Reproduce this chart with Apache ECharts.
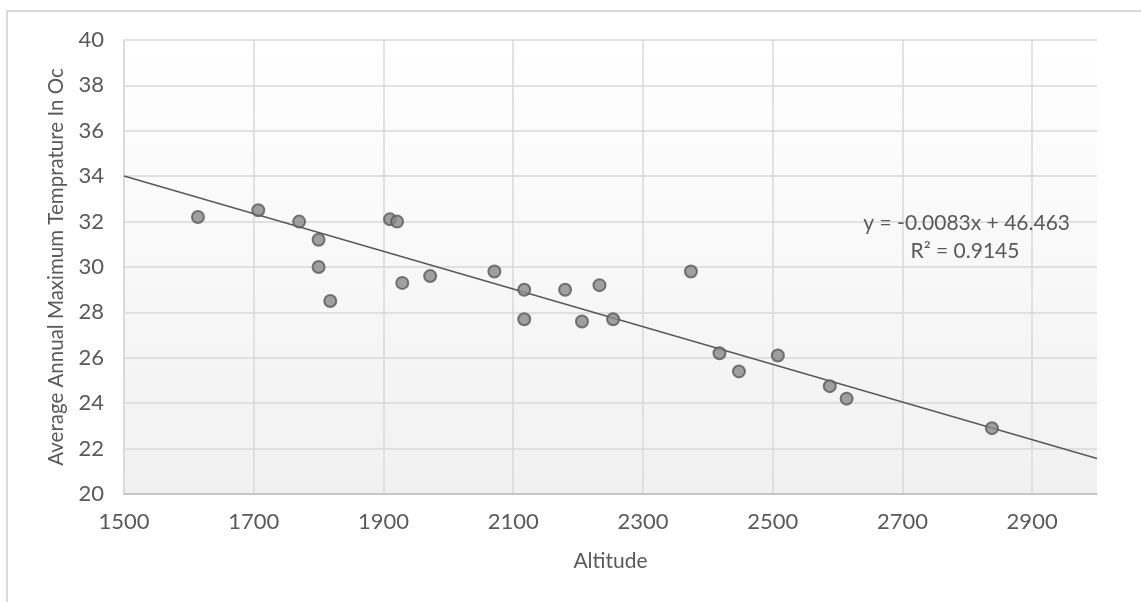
<!DOCTYPE html>
<html><head><meta charset="utf-8">
<script src="https://cdn.jsdelivr.net/npm/echarts@6/dist/echarts.min.js"></script>
<style>html,body{margin:0;padding:0;background:#fff}#c{width:1141px;height:602px}</style>
</head><body><div id="c"></div>
<script>
const altitude = [1614,1707,1770,1800,1800,1818,1910,1921,1929,1972,2071,2117,2117,2180,2206,2233,2254,2374,2418,2448,2508,2588,2614,2838];
const temperature = [32.2,32.5,32.0,31.2,30.0,28.5,32.1,32.0,29.3,29.6,29.8,29.0,27.7,29.0,27.6,29.2,27.7,29.8,26.2,25.4,26.1,24.75,24.2,22.9];
const trendSlope = -0.0083;
const trendIntercept = 46.463;
const trendRange = [1500, 3000];
const equationText = 'y = -0.0083x + 46.463';
const r2Text = 'R² = 0.9145';

const points = altitude.map((a, i) => [a, temperature[i]]);
const trend = trendRange.map(x => [x, trendSlope * x + trendIntercept]);

const FONT = 'Lato';
const TXT = '#595959';
const chart = echarts.init(document.getElementById('c'), null, {renderer: 'canvas'});
chart.setOption({
  animation: false,
  backgroundColor: '#fff',
  textStyle: {fontFamily: FONT, color: TXT},
  grid: {
    left: 124, top: 40, right: 44, bottom: 108, show: true, borderWidth: 0,
    backgroundColor: new echarts.graphic.LinearGradient(0, 0, 0, 1, [
      {offset: 0, color: '#ffffff'}, {offset: 1, color: '#f1f1f1'}
    ])
  },
  xAxis: {
    type: 'value', min: 1500, max: 3000, interval: 200,
    name: 'Altitude', nameLocation: 'middle', nameGap: 57,
    nameTextStyle: {fontFamily: FONT, fontSize: 21, color: TXT},
    axisLine: {show: true, lineStyle: {color: '#bfbfbf', width: 1.5}},
    axisTick: {show: false},
    axisLabel: {fontFamily: FONT, fontSize: 22, color: TXT, margin: 17, showMaxLabel: false,
      formatter: v => String(v)},
    splitLine: {show: true, showMaxLine: false, lineStyle: {color: '#d9d9d9', width: 1.5}}
  },
  yAxis: {
    type: 'value', min: 20, max: 40, interval: 2,
    name: 'Average Annual Maximum Temprature In Oc', nameLocation: 'middle', nameGap: 57,
    nameTextStyle: {fontFamily: FONT, fontSize: 20.5, color: TXT},
    axisLine: {show: true, lineStyle: {color: '#d9d9d9', width: 1.5}},
    axisTick: {show: false},
    axisLabel: {fontFamily: FONT, fontSize: 22, color: TXT, margin: 20},
    splitLine: {show: true, lineStyle: {color: '#d9d9d9', width: 1.5}}
  },
  series: [
    {
      type: 'line', data: trend, symbol: 'none', silent: true, z: 3,
      lineStyle: {color: '#595959', width: 1.5}
    },
    {
      type: 'scatter', data: points, symbolSize: 12, z: 4,
      itemStyle: {color: '#8a8a8a', borderColor: '#595959', borderWidth: 2}
    }
  ],
  graphic: [
    {type: 'rect', silent: true, shape: {x: 7, y: 11, width: 1300, height: 800},
     style: {fill: 'none', stroke: '#d9d9d9', lineWidth: 2}},
    {type: 'text', x: 1070, y: 223, silent: true, z: 10,
     style: {text: equationText, font: '21px ' + FONT, fill: TXT, textAlign: 'right', textVerticalAlign: 'middle'}},
    {type: 'text', x: 965, y: 251, silent: true, z: 10,
     style: {text: r2Text, font: '21px ' + FONT, fill: TXT, textAlign: 'center', textVerticalAlign: 'middle'}}
  ]
});
</script></body></html>
